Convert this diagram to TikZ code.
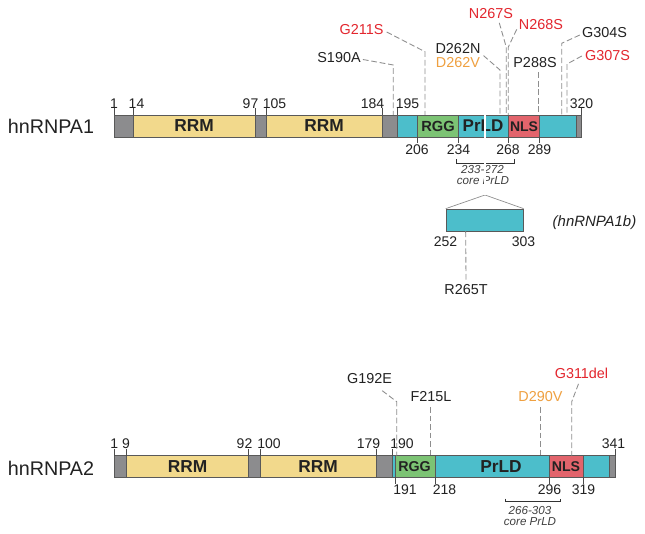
\documentclass[tikz,border=0pt]{standalone}
\usepackage{fontspec}
\setmainfont{Liberation Sans}
\usetikzlibrary{calc}
\definecolor{gbar}{HTML}{8C8C8E}
\definecolor{ybar}{HTML}{F2D98C}
\definecolor{cbar}{HTML}{4CBECB}
\definecolor{gnbar}{HTML}{7CC374}
\definecolor{rbar}{HTML}{E2646C}
\definecolor{mred}{HTML}{E3262E}
\definecolor{morange}{HTML}{EFA040}
\definecolor{dline}{HTML}{8E8E8E}
\definecolor{txt}{HTML}{222222}
\tikzset{
  seg/.style={draw=black!65, line width=0.5pt},
  tickline/.style={draw=black!70, line width=0.5pt},
  num/.style={inner sep=0pt, font=\fontsize{10.5}{12}\selectfont, text=txt},
  mut/.style={inner sep=0pt, font=\fontsize{10.8}{12}\selectfont, text=txt},
  mutline/.style={draw=dline, line width=0.65pt, dash pattern=on 4.3pt off 2.1pt},
  dom/.style={inner sep=0pt, font=\bfseries\fontsize{#1}{14}\selectfont, text=txt},
  core/.style={inner sep=0pt, font=\itshape\fontsize{8.7}{10}\selectfont, text=black!75},
  prot/.style={inner sep=0pt, font=\fontsize{14.8}{16}\selectfont, text=txt},
  brack/.style={draw=black!80, line width=0.6pt},
}
\begin{document}
\begin{tikzpicture}[x=0.75pt,y=-0.75pt]
\useasboundingbox (0,0) rectangle (645,534);
\fill[white] (0,0) rectangle (645,534);

% ================= hnRNPA1 =================
\node[prot] (a1name) at (51,126.7) {hnRNPA1};
\foreach \a/\b/\c in {114/133/gbar,133/255/ybar,255/266.4/gbar,266.4/382/ybar,382/397.7/gbar,397.7/417.3/cbar,417.3/458.3/gnbar,458.3/508.3/cbar,508.3/539.3/rbar,539.3/576.7/cbar,576.7/581.7/gbar}
  \filldraw[seg,fill=\c] (\a,115) rectangle (\b,137);
\foreach \x in {114,133,255,266.4,382,397.7,581.7} \draw[tickline] (\x,108.5) -- (\x,115);
\foreach \x in {417.3,458.3,508.3,539.3} \draw[tickline] (\x,137) -- (\x,143);
\foreach \x/\t in {114/1,136.5/14,250.5/97,274.5/105,372.5/184,407.5/195,581.5/320}
  \node[num] (a1top\t) at (\x,104) {\t};
\foreach \x/\t in {417/206,458.5/234,508/268,539.5/289}
  \node[num] (a1bot\t) at (\x,150) {\t};
\node[dom=13] (a1rrm1) at (194,126) {RRM};
\node[dom=13] (a1rrm2) at (324,126) {RRM};
\node[dom=11] (a1rgg) at (438,126.5) {RGG};
\node[dom=12.75] (a1prld) at (483,126) {PrLD};
\node[dom=10.5] (a1nls) at (524,126.5) {NLS};

% core PrLD bracket
\draw[brack] (456.7,159.3) -- (456.7,163.3) -- (514.3,163.3) -- (514.3,159.3);
\node[core] (a1core1) at (482.5,170) {233-272};
\node[core] (a1core2) at (483,180.7) {core PrLD};

% hnRNPA1b inset
\coordinate (a1bsplit) at (485,195);
\node[draw=black!65, fill=cbar, line width=0.5pt, minimum width=57.98pt, minimum height=16.5pt, inner sep=0pt] (a1b) at (484.65,220) {};
\draw[draw=black!45, line width=0.5pt] (a1bsplit) -- (a1b.north west);
\draw[draw=black!45, line width=0.5pt] (a1bsplit) -- (a1b.north east);
\draw[draw=black!45, double=white, double distance=1.1pt, line width=0.4pt] (485,115.5) -- (a1bsplit);
\node[num] (a1b252) at (445.5,241.7) {252};
\node[num] (a1b303) at (523.5,241.7) {303};
\node[inner sep=0pt, font=\itshape\fontsize{11.2}{13}\selectfont, text=txt] (a1bname) at (594.5,222.7) {(hnRNPA1b)};
\node[mut] (r265t) at (466,290) {R265T};
\draw[mutline] ($(a1b.south west)+(20,0)$) -- ($(r265t.north)+(0,-5)$);

% mutations hnRNPA1
\node[mut] (s190a) at (339,57.5) {S190A};
\draw[mutline] ($(s190a.east)+(2,2)$) -- (393.3,65) -- (393.3,115);
\node[mut,text=mred] (g211s) at (361.5,30) {G211S};
\draw[mutline] ($(g211s.east)+(3,2)$) -- (425,51.7) -- (425,115);
\node[mut] (d262n) at (458,48.5) {D262N};
\node[mut,text=morange] (d262v) at (458,62.7) {D262V};
\draw[mutline] ($(d262n.south east)!0.5!(d262v.north east)+(3,0)$) -- (500,70) -- (500,115);
\node[mut,text=mred] (n267s) at (491,14) {N267S};
\node[mut,text=mred] (n268s) at (541,25) {N268S};
\draw[mutline] ($(n267s.south east)+(-14,3.5)$) -- (506.2,47) -- (506.2,115);
\draw[mutline] ($(n268s.south west)+(-2,-1)$) -- (508.3,47) -- (508.3,115);
\node[mut] (p288s) at (535,63) {P288S};
\draw[mutline] ($(p288s.south)+(3.3,4)$) -- (538.3,115);
\node[mut] (g304s) at (604.5,33) {G304S};
\draw[mutline] ($(g304s.west)+(-2,2)$) -- (561.7,43.3) -- (561.7,115);
\node[mut,text=mred] (g307s) at (607.5,56) {G307S};
\draw[mutline] ($(g307s.west)+(-3,0)$) -- (567,64) -- (567,115);

% ================= hnRNPA2 =================
\node[prot] (a2name) at (51,468) {hnRNPA2};
\foreach \a/\b/\c in {114/126.7/gbar,126.7/248.3/ybar,248.3/260/gbar,260/376/ybar,376/392.3/gbar,392.3/395.7/cbar,395.7/435/gnbar,435/549.3/cbar,549.3/583.3/rbar,583.3/609.3/cbar,609.3/615/gbar}
  \filldraw[seg,fill=\c] (\a,455.5) rectangle (\b,477.3);
\foreach \x in {114,126.7,248.3,260,376,392.3,615} \draw[tickline] (\x,449) -- (\x,455.5);
\foreach \x in {395.7,435,549.3,583.3} \draw[tickline] (\x,477.3) -- (\x,484);
\foreach \x/\t in {114.3/1,126/9,244.5/92,269/100,368.5/179,402/190,613.5/341}
  \node[num] (a2top\t) at (\x,443.3) {\t};
\foreach \x/\t in {405/191,444.5/218,549.5/296,583.5/319}
  \node[num] (a2bot\t) at (\x,490) {\t};
\node[dom=13] (a2rrm1) at (187.5,467) {RRM};
\node[dom=13] (a2rrm2) at (318,467) {RRM};
\node[dom=10.7] (a2rgg) at (414.5,467) {RGG};
\node[dom=13] (a2prld) at (501,466.5) {PrLD};
\node[dom=10.6] (a2nls) at (566,467) {NLS};

\draw[brack] (505,498.5) -- (505,501.7) -- (560,501.7) -- (560,498.5);
\node[core] (a2core1) at (530,510.7) {266-303};
\node[core] (a2core2) at (530,521.7) {core PrLD};

% mutations hnRNPA2
\node[mut] (g192e) at (369.5,378.3) {G192E};
\draw[mutline] ($(g192e.south east)+(-10,7)$) -- (396.7,401.7) -- (396.7,455.5);
\node[mut] (f215l) at (431,396.7) {F215L};
\draw[mutline] ($(f215l.south)+(-1,5)$) -- (430,455.5);
\node[mut,text=morange] (d290v) at (540.5,396.7) {D290V};
\draw[mutline] ($(d290v.south)+(0.2,5)$) -- (540.7,455.5);
\node[mut,text=mred] (g311del) at (581.5,373.3) {G311del};
\draw[mutline] ($(g311del.south)+(-3,5)$) -- (571.7,401.7) -- (571.7,455.5);
\end{tikzpicture}
\end{document}
